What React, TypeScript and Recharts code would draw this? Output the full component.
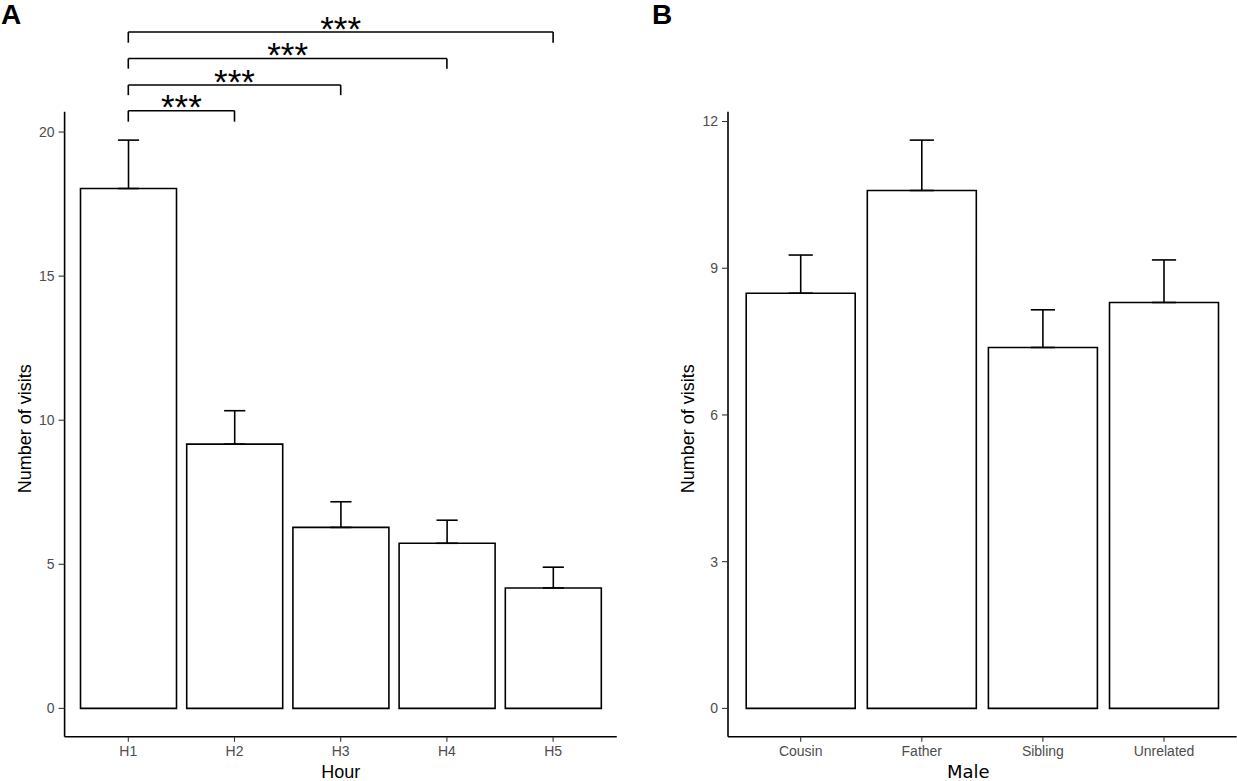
import React from 'react';
import { BarChart, Bar, XAxis, YAxis, ErrorBar, ReferenceLine } from 'recharts';

// Panel A: visits per hour
const hours = ['H1', 'H2', 'H3', 'H4', 'H5'];
const hourVisits = [18.04, 9.17, 6.28, 5.73, 4.18];
const hourSE = [1.68, 1.16, 0.89, 0.8, 0.72];
const hourTicks = [0, 5, 10, 15, 20];

// Panel B: visits per male relatedness
const males = ['Cousin', 'Father', 'Sibling', 'Unrelated'];
const maleVisits = [8.49, 10.59, 7.38, 8.3];
const maleSE = [0.78, 1.03, 0.77, 0.87];
const maleTicks = [0, 3, 6, 9, 12];

// significance brackets, all against H1
const bracketFrom = 'H1';
const bracketTo = ['H2', 'H3', 'H4', 'H5'];
const bracketY = [20.74, 21.63, 22.55, 23.47];
const bracketTip = [20.36, 21.28, 22.2, 23.1];
const bracketText = ['***', '***', '***', '***'];

const FONT = '"Liberation Sans", Arial, Helvetica, sans-serif';
const LINE = 1.6;

const hourData = hours.map((h, i) => ({ name: h, visits: hourVisits[i], err: [0, hourSE[i]] }));
const maleData = males.map((m, i) => ({ name: m, visits: maleVisits[i], err: [0, maleSE[i]] }));

// ggplot style 5% expansion around [0, max]
const expand = (means: number[], se: number[]) => {
    const max = Math.max(...means.map((m, i) => m + se[i]));
    return [-0.05 * max, 1.05 * max];
};

const tickStyle = { fill: '#4d4d4d', fontSize: 14, fontFamily: FONT };
const tickLine = { stroke: '#333333', strokeWidth: 1.1 };
const axisLine = { stroke: '#000000', strokeWidth: LINE };

const yTitle = (text: string) => (props: any) => {
    const vb = props.viewBox;
    const x = vb.x + vb.width - 33.6;
    const cy = vb.y + vb.height / 2 + 4.5;
    return (
        <text x={x} y={cy} transform={`rotate(-90 ${x} ${cy})`} textAnchor="middle"
            fontSize={18} fontFamily={FONT} fill="#000">{text}</text>
    );
};

const xTitle = (text: string, dx: number, family: string) => (props: any) => {
    const vb = props.viewBox;
    return (
        <text x={vb.x + vb.width / 2 + dx} y={vb.y + 41.2} textAnchor="middle"
            fontSize={18} fontFamily={family} fill="#000">{text}</text>
    );
};

const starLabel = (text: string) => (props: any) => {
    const vb = props.viewBox;
    return (
        <text x={vb.x + vb.width / 2} y={vb.y + 8.5} textAnchor="middle"
            fontSize={35} fontFamily={FONT} fill="#000">{text}</text>
    );
};

const panelLabel = (left: number): React.CSSProperties => ({
    position: 'absolute', left, top: 0, lineHeight: '30px', fontFamily: FONT, fontWeight: 'bold', fontSize: 28, color: '#000',
});

const App: React.FC = () => {
    const hourDomain = expand(hourVisits, hourSE);
    const maleDomain = expand(maleVisits, maleSE);

    return (
        <div style={{ position: 'absolute', left: 0, top: 0, width: 1237, height: 781, background: '#fff', overflow: 'hidden' }}>
            <div style={panelLabel(1)}>A</div>
            <div style={panelLabel(652)}>B</div>

            <div style={{ position: 'absolute', left: 0, top: 0 }}>
                <BarChart width={640} height={781} data={hourData} barCategoryGap="5%"
                    margin={{ top: 111.7, right: 23.2, left: 0, bottom: 16.2 }}>
                    <XAxis dataKey="name" interval={0} height={28} padding={{ left: 10.6, right: 10.6 }}
                        tick={tickStyle} tickLine={tickLine} axisLine={axisLine} tickSize={5} tickMargin={4}
                        label={xTitle('Hour', 0, FONT)} />
                    <YAxis type="number" domain={hourDomain} ticks={hourTicks} allowDataOverflow width={64.6}
                        tick={tickStyle} tickLine={tickLine} axisLine={axisLine} tickSize={6} tickMargin={4}
                        label={yTitle('Number of visits')} />
                    <Bar dataKey="visits" fill="#ffffff" stroke="#000000" strokeWidth={LINE} isAnimationActive={false}>
                        <ErrorBar dataKey="err" direction="y" width={10.6} stroke="#000000" strokeWidth={LINE} isAnimationActive={false} />
                    </Bar>
                    {bracketTo.map((to, i) => (
                        <ReferenceLine key={`h${i}`} segment={[{ x: bracketFrom, y: bracketY[i] }, { x: to, y: bracketY[i] }]}
                            stroke="#000" strokeWidth={LINE} ifOverflow="visible" label={starLabel(bracketText[i])} />
                    ))}
                    {bracketTo.map((to, i) => (
                        <ReferenceLine key={`l${i}`} segment={[{ x: bracketFrom, y: bracketTip[i] }, { x: bracketFrom, y: bracketY[i] }]}
                            stroke="#000" strokeWidth={LINE} ifOverflow="visible" />
                    ))}
                    {bracketTo.map((to, i) => (
                        <ReferenceLine key={`r${i}`} segment={[{ x: to, y: bracketTip[i] }, { x: to, y: bracketY[i] }]}
                            stroke="#000" strokeWidth={LINE} ifOverflow="visible" />
                    ))}
                </BarChart>
            </div>

            <div style={{ position: 'absolute', left: 640, top: 0 }}>
                <BarChart width={597} height={781} data={maleData} barCategoryGap="5%"
                    margin={{ top: 111.7, right: 0.3, left: 0, bottom: 16.2 }}>
                    <XAxis dataKey="name" interval={0} height={28} padding={{ left: 12.15, right: 12.15 }}
                        tick={tickStyle} tickLine={tickLine} axisLine={axisLine} tickSize={5} tickMargin={4}
                        label={xTitle('Male', -14, '"DejaVu Sans", Verdana, sans-serif')} />
                    <YAxis type="number" domain={maleDomain} ticks={maleTicks} allowDataOverflow width={88}
                        tick={tickStyle} tickLine={tickLine} axisLine={axisLine} tickSize={6} tickMargin={4}
                        label={yTitle('Number of visits')} />
                    <Bar dataKey="visits" fill="#ffffff" stroke="#000000" strokeWidth={LINE} isAnimationActive={false}>
                        <ErrorBar dataKey="err" direction="y" width={12.1} stroke="#000000" strokeWidth={LINE} isAnimationActive={false} />
                    </Bar>
                </BarChart>
            </div>
        </div>
    );
};

export default App;
